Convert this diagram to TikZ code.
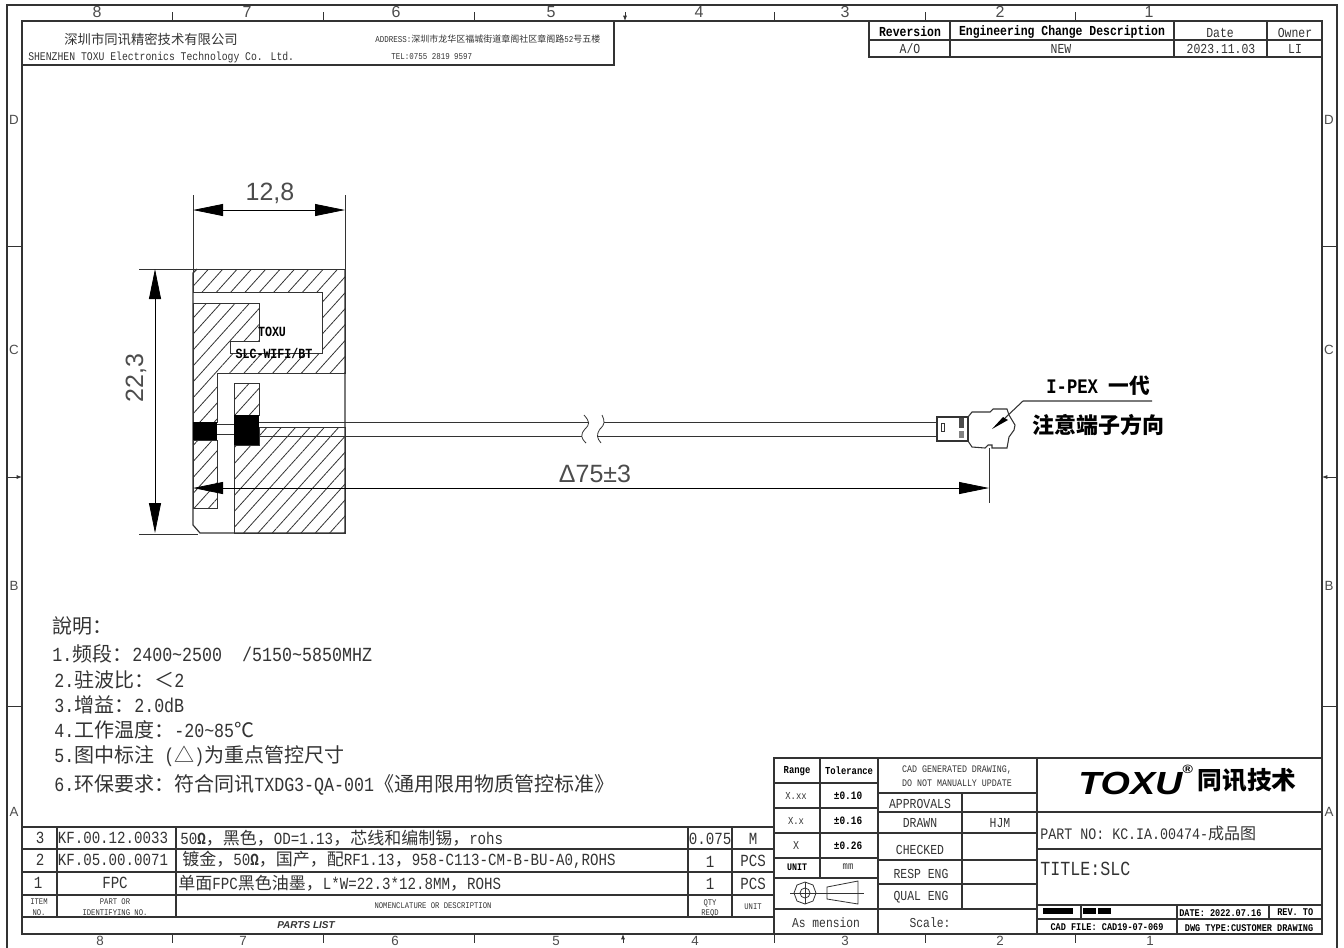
\documentclass[tikz,border=0pt]{standalone}
\usepackage{fontspec}
\usepackage{xcolor}
\usetikzlibrary{arrows.meta,patterns.meta}
\setmainfont{Liberation Sans}
\newfontfamily\cadfont[FakeStretch=0.833]{Liberation Mono}
\newfontfamily\cnfont{Noto Sans CJK SC}
\newfontfamily\logofont[FakeStretch=1.18]{Liberation Sans}
\newcommand{\cn}[1]{{\cnfont #1}}
\definecolor{inkcol}{gray}{0.2}
\definecolor{dimcol}{gray}{0.3}
\tikzset{
	frameline/.style={draw=inkcol,line width=0.9pt},
	gridline/.style={draw=inkcol,line width=0.8pt},
	thinline/.style={draw=inkcol,line width=0.6pt},
	dimline/.style={draw=black,line width=0.6pt,{Triangle[length=22.5pt,width=9pt]}-{Triangle[length=22.5pt,width=9pt]}},
	hatched/.style={draw=inkcol,line width=0.7pt,pattern={Lines[angle=48,distance=8pt,line width=0.6pt]},pattern color=inkcol},
	cad/.style={font=\cadfont\fontsize{#1}{#1}\selectfont,inner sep=0pt,text=inkcol},
	cadb/.style={font=\cadfont\bfseries\fontsize{#1}{#1}\selectfont,inner sep=0pt,text=black},
	sans/.style={font=\fontsize{#1}{#1}\selectfont,inner sep=0pt,text=dimcol},
}
\begin{document}
\begin{tikzpicture}[x=0.75pt,y=-0.75pt]
	\useasboundingbox (0,0) rectangle (1344,947);

	% sheet border
	\draw[frameline] (7,960) -- (7,5) -- (1337,5) -- (1337,960);
	\draw[frameline] (22,21) rectangle (1322,934);
	\foreach \x in {172,323,474,774,925,1075} {
		\draw[thinline] (\x,12) -- (\x,21);
		\draw[thinline] (\x,934) -- (\x,943);
	}
	\foreach \y in {246,706} {
		\draw[thinline] (7,\y) -- (22,\y);
		\draw[thinline] (1322,\y) -- (1337,\y);
	}
	\draw[thinline,-{Latex[length=4pt,width=3pt]}] (625,12) -- (625,21);
	\draw[thinline,-{Latex[length=4pt,width=3pt]}] (623,943) -- (623,934);
	\draw[thinline,-{Latex[length=4pt,width=3pt]}] (7,477) -- (22,477);
	\draw[thinline,-{Latex[length=4pt,width=3pt]}] (1337,477) -- (1322,477);
	\foreach \d/\x in {8/97,7/247,6/396,5/551,4/699,3/845,2/1000,1/1149} {
		\node[sans=12] (top\d) at (\x,12) {\d};
	}
	\foreach \d/\x in {8/100,7/243,6/395,5/556,4/695,3/845,2/1000,1/1150} {
		\node[sans=10] (bot\d) at (\x,940.5) {\d};
	}
	\foreach \l/\y in {D/120,C/350,B/586,A/812} {
		\node[sans=10] (left\l) at (14,\y) {\l};
		\node[sans=10] (right\l) at (1329,\y) {\l};
	}

	% company box
	\draw[gridline] (22,65) -- (614,65) -- (614,21);
	\node[cad=10] (company) at (151,39) {\cn{深圳市同讯精密技术有限公司}};
	\node[cad=8.8,anchor=west] (companyen) at (28,57) {SHENZHEN TOXU Electronics Technology Co. Ltd.};
	\node[cad=6.75,anchor=west] (address) at (375,39) {ADDRESS:\cn{深圳市龙华区福城街道章阁社区章阁路}52\cn{号五楼}};
	\node[cad=6.75,anchor=west] (phone) at (391,57) {TEL:0755 2819 9597};

	% revision table
	\draw[gridline] (869,21) -- (869,57) -- (1323,57);
	\draw[gridline] (869,40) -- (1322,40);
	\foreach \x in {950,1174,1267} {\draw[gridline] (\x,21) -- (\x,57);}
	\node[cadb=10.3] (revhead) at (910,32) {Reversion};
	\node[cadb=10.3] (changehead) at (1062,32) {Engineering Change Description};
	\node[cad=10.3] (datehead) at (1220,33) {Date};
	\node[cad=10.3] (ownerhead) at (1295,33) {Owner};
	\node[cad=10.3] (revval) at (910,49) {A/O};
	\node[cad=10.3] (changeval) at (1061,49) {NEW};
	\node[cad=10.3] (dateval) at (1221,49) {2023.11.03};
	\node[cad=10.3] (ownerval) at (1295,49) {LI};

	% board outline and hatching
	\draw[hatched] (193,269) -- (345,269) -- (345,373) -- (217,373) -- (217,422) -- (193,422) -- (193,303) -- (259,303) -- (259,341) -- (230,341) -- (230,353) -- (322,353) -- (322,292) -- (193,292) -- cycle;
	\draw[hatched] (193,440) rectangle (217,508);
	\draw[hatched] (234,383) rectangle (259,415);
	\draw[hatched] (259,427) -- (345,427) -- (345,533) -- (234,533) -- (234,445) -- (259,445) -- cycle;
	\draw[frameline] (197,269) -- (193,273) -- (193,525) -- (200,533) -- (345,533) -- (345,269);
	\fill[black] (193,422) rectangle (217,440);
	\fill[black] (234,415) rectangle (259,445);
	\node[cadb=10.5] (brand) at (272,332) {TOXU};
	\node[cadb=10.5] (model) at (274,353) {SLC-WIFI/BT};

	% cable with break mark
	\draw[thinline] (217,424) -- (234,424);
	\draw[thinline] (217,434) -- (234,434);
	\draw[thinline] (259,422) -- (589,422);
	\draw[thinline] (259,436) -- (582,436);
	\draw[thinline] (604,422) -- (937,422);
	\draw[thinline] (597,436) -- (937,436);
	\draw[thinline] (584,415) .. controls (590,422) and (590,424) .. (585,429) .. controls (580,435) and (581,438) .. (586,443);
	\draw[thinline] (602,415) .. controls (605,422) and (605,424) .. (600,429) .. controls (596,435) and (597,438) .. (601,443);

	% connector
	\draw[gridline] (937,417) -- (968,417) -- (968,441) -- (937,441) -- cycle;
	\draw[thinline] (941,423) rectangle (944,431);
	\fill[dimcol] (959,418) rectangle (964,428);
	\fill[dimcol!70] (959,431) rectangle (964,438);
	\draw[gridline] (968,417) -- (972,412) -- (990,412) -- (993,409) -- (1007,409) -- (1009,415) -- (1015,425) -- (1014,430) -- (1009,437) -- (1007,448) -- (992,448) -- (992,445) -- (988,445) -- (985,448) -- (972,447) -- (968,441);
	\coordinate (leadtip) at (992,429);
	\coordinate (leadbend) at (1023,401);
	\coordinate (leadend) at (1152,401);
	\fill[black] (leadtip) -- (1003,417) -- (1008,420) -- cycle;
	\draw[gridline] (1005,418) -- (leadbend) -- (leadend);
	\node[cadb=15.5] (ipex) at (1098,386) {I-PEX \cn{一代}};
	\node[cadb=16.5] (notice) at (1098,425) {\cn{注意端子方向}};

	% dimensions
	\coordinate (wl) at (193,210);
	\coordinate (wr) at (345,210);
	\coordinate (ht) at (155,269);
	\coordinate (hb) at (155,533);
	\coordinate (ll) at (193,488);
	\coordinate (lr) at (989,488);
	\draw[thinline] (193,195) -- (193,269);
	\draw[thinline] (345,195) -- (345,269);
	\draw[thinline] (139,269) -- (193,269);
	\draw[thinline] (139,534) -- (198,534);
	\draw[thinline] (989,448) -- (989,503);
	\draw[dimline] (wl) -- (wr);
	\draw[dimline] (ht) -- (hb);
	\draw[dimline] (ll) -- (lr);
	\node[sans=18.75] (width) at (270,193) {12,8};
	\node[sans=18.75,rotate=90] (height) at (136,378) {22,3};
	\node[sans=18.75] (length) at (595,474) {Δ75±3};

	% notes
	\node[cad=15,anchor=west] (note0) at (52,626) {\cn{說明：}};
	\node[cad=15,anchor=west] (note1) at (52,654) {1.\cn{频段：}2400\char126 2500\ \ /5150\char126 5850MHZ};
	\node[cad=15,anchor=west] (note2) at (54,680) {2.\cn{驻波比：＜}2};
	\node[cad=15,anchor=west] (note3) at (54,705) {3.\cn{增益：}2.0dB};
	\node[cad=15,anchor=west] (note4) at (54,730) {4.\cn{工作温度：}-20\char126 85\cn{℃}};
	\node[cad=15,anchor=west] (note5) at (54,756) {5.\cn{图中标注} (\cn{△})\cn{为重点管控尺寸}};
	\node[cad=15,anchor=west] (note6) at (54,785) {6.\cn{环保要求：符合同讯}TXDG3-QA-001\cn{《通用限用物质管控标准》}};

	% parts list
	\draw[gridline] (22,827) -- (774,827);
	\foreach \y in {849,872,895,917} {\draw[gridline] (22,\y) -- (774,\y);}
	\foreach \x in {57,176,688,732} {\draw[gridline] (\x,827) -- (\x,917);}
	\node[cad=12.75] (item3) at (40,838) {3};
	\node[cad=12.75] (item2) at (40,860) {2};
	\node[cad=12.75] (item1) at (38,883) {1};
	\node[cad=12.75] (code3) at (113,838) {KF.00.12.0033};
	\node[cad=12.75] (code2) at (113,860) {KF.05.00.0071};
	\node[cad=12.75] (code1) at (115,883) {FPC};
	\node[cad=12.75,anchor=west] (desc3) at (180,838) {50\textbf{Ω}\cn{，黑色，}OD=1.13\cn{，芯线和编制锡，}rohs};
	\node[cad=12.75,anchor=west] (desc2) at (182,860) {\cn{镀金，}50\textbf{Ω}\cn{，国产，配}RF1.13\cn{，}958-C113-CM-B-BU-A0,ROHS};
	\node[cad=12.75,anchor=west] (desc1) at (178,883) {\cn{单面}FPC\cn{黑色油墨，}L*W=22.3*12.8MM\cn{，}ROHS};
	\node[cad=12.75] (qty3) at (710,839) {0.075};
	\node[cad=12.75] (qty2) at (710,862) {1};
	\node[cad=12.75] (qty1) at (710,884) {1};
	\node[cad=12.75] (unit3) at (753,839) {M};
	\node[cad=12.75] (unit2) at (753,861) {PCS};
	\node[cad=12.75] (unit1) at (753,884) {PCS};
	\node[cad=6.5] (headitem) at (39,902) {ITEM};
	\node[cad=6.5] (headno) at (39,913) {NO.};
	\node[cad=6.5] (headpart) at (115,902) {PART OR};
	\node[cad=6.5] (headid) at (115,913) {IDENTIFYING NO.};
	\node[cad=6.5] (headdesc) at (433,906) {NOMENCLATURE OR DESCRIPTION};
	\node[cad=6.5] (headqty) at (710,903) {QTY};
	\node[cad=6.5] (headreq) at (710,913) {REQD};
	\node[cad=6.5] (headunit) at (753,907) {UNIT};
	\node[font=\bfseries\itshape\fontsize{7.5}{8}\selectfont,inner sep=0pt,text=inkcol] (partslist) at (306,925) {PARTS LIST};

	% tolerance block
	\draw[gridline] (774,934) -- (774,758) -- (1322,758);
	\draw[gridline] (820,758) -- (820,878);
	\draw[gridline] (878,758) -- (878,934);
	\foreach \y in {783,808,833,858,878,909} {\draw[gridline] (774,\y) -- (878,\y);}
	\node[cadb=8] (rangehead) at (797,771) {Range};
	\node[cadb=8] (tolhead) at (849,771) {Tolerance};
	\node[cad=8] (rangea) at (796,796) {X.xx};
	\node[cad=8] (rangeb) at (796,821) {X.x};
	\node[cad=9] (rangec) at (796,846) {X};
	\node[cadb=8.5] (tola) at (848,796) {±0.10};
	\node[cadb=8.5] (tolb) at (848,821) {±0.16};
	\node[cadb=8.5] (tolc) at (848,846) {±0.26};
	\node[cadb=7.5] (unithead) at (797,867) {UNIT};
	\node[cad=8] (unitval) at (848,867) {mm};
	\draw[thinline] (790,893) -- (864,893);
	\draw[thinline] (805,893) circle (5);
	\draw[thinline] (805,882) -- (805,904);
	\draw[thinline] (816,893) -- (813,885) -- (805,882) -- (797,885) -- (794,893) -- (797,901) -- (805,904) -- (813,901) -- cycle;
	\draw[thinline] (827,887) -- (858,881) -- (858,904) -- (827,899) -- cycle;
	\node[cad=10.2] (asmention) at (826,923) {As mension};
	\node[cad=10.2] (scale) at (930,923) {Scale:};

	% approvals
	\draw[gridline] (962,793) -- (962,909);
	\foreach \y in {793,812,833,860,884,909} {\draw[gridline] (878,\y) -- (1037,\y);}
	\draw[gridline] (878,934) -- (1322,934);
	\node[cad=7.5] (cadnotea) at (957,770) {CAD GENERATED DRAWING,};
	\node[cad=7.5] (cadnoteb) at (957,783) {DO NOT MANUALLY UPDATE};
	\node[cad=10.3] (approvals) at (920,804) {APPROVALS};
	\node[cad=10.3] (drawn) at (920,823) {DRAWN};
	\node[cad=10.3] (drawnby) at (1000,823) {HJM};
	\node[cad=10.3] (checked) at (920,850) {CHECKED};
	\node[cad=10.3] (respeng) at (921,874) {RESP ENG};
	\node[cad=10.3] (qualeng) at (921,897) {QUAL ENG};

	% title block
	\draw[gridline] (1037,758) -- (1037,934);
	\draw[gridline] (1037,812) -- (1322,812);
	\draw[gridline] (1037,849) -- (1322,849);
	\draw[gridline] (1037,905) -- (1322,905);
	\draw[gridline] (1037,919) -- (1322,919);
	\draw[gridline] (1177,905) -- (1177,934);
	\draw[gridline] (1081,905) -- (1081,919);
	\draw[gridline] (1269,905) -- (1269,919);
	\node[font=\logofont\bfseries\itshape\fontsize{24}{24}\selectfont,inner sep=0pt,anchor=west,text=black] (logo) at (1078,780) {TOXU\raisebox{1.2ex}{\fontsize{9}{9}\selectfont®}};
	\node[font=\cnfont\bfseries\fontsize{18.5}{19}\selectfont,inner sep=0pt,text=black] (logocn) at (1247,780) {同讯技术};
	\node[cad=12,anchor=west] (partno) at (1040,833) {PART NO: KC.IA.00474-\cn{成品图}};
	\node[cad=15,anchor=west] (title) at (1040,869) {TITLE:SLC};
	\fill[black] (1043,908) rectangle (1073,914);
	\fill[black] (1083,908) rectangle (1096,914);
	\fill[black] (1098,908) rectangle (1111,914);
	\node[cadb=7.7,anchor=west] (datebox) at (1179,913) {DATE:  2022.07.16};
	\node[cadb=7.7,anchor=west] (revbox) at (1277,912) {REV.  TO};
	\node[cadb=7.7] (cadfile) at (1107,927) {CAD FILE: CAD19-07-069};
	\node[cadb=7.7] (dwgtype) at (1249,928) {DWG TYPE:CUSTOMER DRAWING};
\end{tikzpicture}
\end{document}
